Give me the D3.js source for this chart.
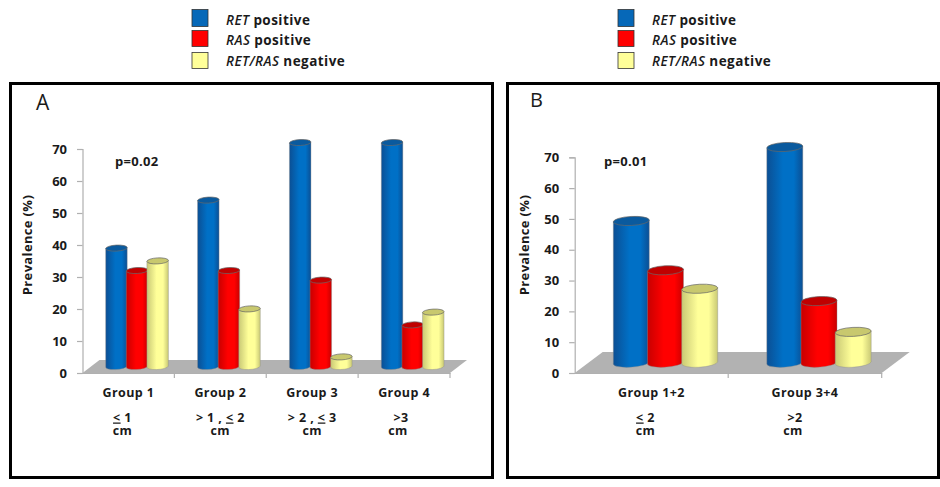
<!DOCTYPE html>
<html>
<head>
<meta charset="utf-8">
<script src="https://cdn.jsdelivr.net/npm/d3@7"></script>
<style>
  html, body { margin: 0; padding: 0; background: #fff; }
  svg { display: block; }
  text { font-family: "Open Sans", sans-serif; font-weight: 700; fill: #1a1a1a; }
</style>
</head>
<body>
<div id="chart"></div>
<script>
const seriesNames = ["ret", "ras", "neg"];
const yTicks = [0, 10, 20, 30, 40, 50, 60, 70];

// panel A
const groupsA = ["Group 1", "Group 2", "Group 3", "Group 4"];
const retA = [37, 52, 70, 70];
const rasA = [30, 30, 27, 13];
const negA = [33, 18, 3, 17];

// panel B
const groupsB = ["Group 1+2", "Group 3+4"];
const retB = [46, 70];
const rasB = [30, 20];
const negB = [24, 10];

const colors = {
  ret: { edge: "#0b4f94", mid: "#0070c6", top: "#0a5a9e", flat: "#0668b8" },
  ras: { edge: "#c80000", mid: "#ff0000", top: "#c00000", flat: "#ff0000" },
  neg: { edge: "#c9c975", mid: "#ffff99", top: "#c8c86e", flat: "#ffff99" }
};

const svg = d3.select("#chart").append("svg")
  .attr("width", 940)
  .attr("height", 487);

const defs = svg.append("defs");
seriesNames.forEach(function (s) {
  const g = defs.append("linearGradient").attr("id", "cyl-" + s);
  g.append("stop").attr("offset", "0%").attr("stop-color", colors[s].edge);
  g.append("stop").attr("offset", "45%").attr("stop-color", colors[s].mid);
  g.append("stop").attr("offset", "75%").attr("stop-color", colors[s].mid);
  g.append("stop").attr("offset", "100%").attr("stop-color", colors[s].edge);
});

function legend(x) {
  const rows = [
    { key: "ret", y: 9.5, h: 17, base: 24.5, it: "RET", rest: " positive" },
    { key: "ras", y: 30.5, h: 16, base: 44.5, it: "RAS", rest: " positive" },
    { key: "neg", y: 52.5, h: 16, base: 66, it: "RET/RAS", rest: " negative" }
  ];
  rows.forEach(function (r) {
    svg.append("rect")
      .attr("x", x).attr("y", r.y)
      .attr("width", 16).attr("height", r.h)
      .attr("fill", colors[r.key].flat)
      .attr("stroke", "#333").attr("stroke-width", 0.8);
    const t = svg.append("text").attr("x", x + 34).attr("y", r.base)
      .style("font-size", "13.5px").style("letter-spacing", "0.45px");
    t.append("tspan").style("font-style", "italic").style("font-weight", 600).text(r.it);
    t.append("tspan").text(r.rest);
  });
}

function panel(cfg) {
  svg.append("rect")
    .attr("x", cfg.frame[0]).attr("y", cfg.frame[1])
    .attr("width", cfg.frame[2]).attr("height", cfg.frame[3])
    .attr("fill", "#fff").attr("stroke", "#000").attr("stroke-width", 3);

  const y = d3.scaleLinear().domain([0, 70]).range([373, cfg.yTop]);
  const x = d3.scaleBand().domain(cfg.groups).range(cfg.xRange);
  const inner = d3.scaleBand().domain(seriesNames)
    .range([cfg.barStart, cfg.barStart + cfg.barStep * 3]);
  const values = { ret: cfg.ret, ras: cfg.ras, neg: cfg.neg };

  // floor of the 3d box
  const x0 = cfg.xRange[0], x1 = cfg.xRange[1], fy = y(0);
  svg.append("path")
    .attr("d", d3.line()([[x0, fy], [x1, fy], [x1 + cfg.depth[0], fy - cfg.depth[1]], [x0 + cfg.depth[0], fy - cfg.depth[1]]]))
    .attr("fill", "#b2b2b2");

  const axisY = svg.append("g")
    .attr("transform", "translate(" + x0 + ",0)")
    .call(d3.axisLeft(y).tickValues(yTicks).tickSize(5.5).tickPadding(10));
  const axisX = svg.append("g")
    .attr("transform", "translate(0," + fy + ")")
    .call(d3.axisBottom(x).tickSize(0).tickPadding(15));
  axisY.selectAll("text").style("font-size", "13px");
  axisX.selectAll("text").style("font-size", "12.5px").style("letter-spacing", "0.4px");
  [axisY, axisX].forEach(function (a) {
    a.select(".domain").attr("stroke", "#b0b0b0").attr("stroke-width", 1.2);
    a.selectAll("line").attr("stroke", "#b0b0b0").attr("stroke-width", 1.2);
  });
  // category separators sit on the band edges, not the centres
  svg.append("g").selectAll("line")
    .data(cfg.groups)
    .join("line")
    .attr("x1", function (d) { return x(d) + x.bandwidth(); })
    .attr("x2", function (d) { return x(d) + x.bandwidth(); })
    .attr("y1", fy).attr("y2", fy + 5)
    .attr("stroke", "#b0b0b0").attr("stroke-width", 1.2);

  // cylinders
  const lift = cfg.lift, rx = cfg.barW / 2, ry = cfg.ry, tilt = cfg.tilt;
  cfg.groups.forEach(function (g, i) {
    seriesNames.forEach(function (s) {
      const left = x(g) + inner(s), right = left + cfg.barW;
      const base = y(0) - lift;
      const h = y(0) - y(values[s][i]);
      const top = base - h;
      svg.append("path")
        .attr("d", "M" + left + "," + (top + tilt) + " L" + left + "," + (base + tilt) +
          " A" + rx + "," + ry + " -4 0 0 " + right + "," + (base - tilt) +
          " L" + right + "," + (top - tilt) + " Z")
        .attr("fill", "url(#cyl-" + s + ")")
        .attr("stroke", "#8a8a8a").attr("stroke-width", 0.4);
      svg.append("ellipse")
        .attr("cx", left + rx).attr("cy", top)
        .attr("rx", rx).attr("ry", ry)
        .attr("transform", "rotate(" + (-cfg.tiltDeg) + " " + (left + rx) + " " + top + ")")
        .attr("fill", colors[s].top)
        .attr("stroke", "#666").attr("stroke-width", 0.7);
    });
  });

  svg.append("text")
    .attr("transform", "translate(" + cfg.labelX + ",245) rotate(-90)")
    .attr("text-anchor", "middle")
    .style("font-size", "13px").style("letter-spacing", "0.35px")
    .text("Prevalence (%)");

  svg.append("text").attr("x", cfg.pX).attr("y", 166)
    .style("font-size", "13px").style("letter-spacing", "0.3px").text(cfg.pText);
  svg.append("text").attr("x", cfg.letter[0]).attr("y", cfg.letter[1])
    .style("font-size", cfg.letter[2] + "px").style("font-weight", "400").text(cfg.name);

  // size ranges under the groups
  cfg.sizes.forEach(function (parts, i) {
    const cx = x(cfg.groups[i]) + x.bandwidth() / 2 + cfg.sizeDx[i];
    const t = svg.append("text").attr("x", cx).attr("y", 421.5)
      .attr("text-anchor", "middle").style("font-size", "12.5px").style("letter-spacing", "0.4px");
    parts.forEach(function (p) {
      t.append("tspan").style("text-decoration", p.u ? "underline" : "none").text(p.t);
    });
    svg.append("text").attr("x", cx + cfg.cmDx[i]).attr("y", 435)
      .attr("text-anchor", "middle").style("font-size", "12.5px").style("letter-spacing", "0.4px").text("cm");
  });
}

legend(192);
legend(618);

panel({
  name: "A", letter: [36, 110, 21], pText: "p=0.02", pX: 115, labelX: 32,
  frame: [10.5, 83.5, 482, 394],
  groups: groupsA, ret: retA, ras: rasA, neg: negA,
  xRange: [82.5, 450], yTop: 149, depth: [17, 13],
  barStart: 23.2, barStep: 20.6, barW: 21.5, lift: 6.5, ry: 3, tilt: 0.4, tiltDeg: 3,
  sizeDx: [-6, 0, 0, -3], cmDx: [0, 0, 0, -3],
  sizes: [
    [{ t: "<", u: true }, { t: " 1" }],
    [{ t: "> 1 , " }, { t: "<", u: true }, { t: " 2" }],
    [{ t: "> 2 , " }, { t: "<", u: true }, { t: " 3" }],
    [{ t: ">3" }]
  ]
});

panel({
  name: "B", letter: [530, 107, 20], pText: "p=0.01", pX: 604, labelX: 529,
  frame: [507.5, 83.5, 431, 394],
  groups: groupsB, ret: retB, ras: rasB, neg: negB,
  xRange: [574.7, 881.7], yTop: 157.3, depth: [28, 21],
  barStart: 38.6, barStep: 34.2, barW: 36, lift: 10.3, ry: 4.5, tilt: 0.9, tiltDeg: 3,
  sizeDx: [-6, -10], cmDx: [0, -2],
  sizes: [
    [{ t: "<", u: true }, { t: " 2" }],
    [{ t: ">2" }]
  ]
});
</script>
</body>
</html>
